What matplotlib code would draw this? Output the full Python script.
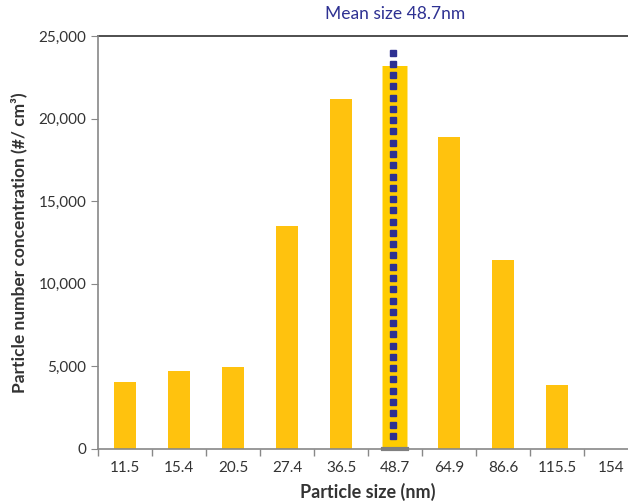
import matplotlib
matplotlib.use("Agg")
import matplotlib.pyplot as plt
import numpy as np
from matplotlib.ticker import FuncFormatter

plt.rcParams['font.family'] = ['Lato', 'DejaVu Sans']

categories = ["11.5", "15.4", "20.5", "27.4", "36.5", "48.7", "64.9", "86.6", "115.5", "154"]
values = [4050, 4700, 4950, 13500, 21200, 23200, 18900, 11450, 3850, 0]
mean_label = "Mean size 48.7nm"
mean_category = "48.7"
mean_line_top = 24000
mean_line_bottom = 800

fig = plt.figure(figsize=(6.28, 5.01), dpi=100)
ax = fig.add_axes([98/628, 1-449/501, 540/628, 413/501])

x = np.arange(len(categories))
mi = categories.index(mean_category)
colors = ['#FFC20E'] * len(categories)
widths = [0.41] * len(categories)
colors[mi] = '#FFCC00'
widths[mi] = 0.45
ax.bar(x, values, width=widths, color=colors, zorder=2)
# glow around mean bar
ax.bar([mi], [values[mi]], width=0.49, color='#FFE680', zorder=1)
# gray base segment under mean bar
ax.plot([mi-0.23, mi+0.23], [0, 0], color='#808080', lw=3, zorder=3, clip_on=False)

yy = np.linspace(mean_line_bottom, mean_line_top, 35)
ax.plot([mi-0.03]*len(yy), yy, linestyle='none', marker='s', ms=4.2,
        color='#2E3192', zorder=4, clip_on=False)

ax.set_xlim(-0.5, len(categories)-0.5)
ax.set_ylim(0, 25000)
ax.set_yticks(np.arange(0, 25001, 5000))
ax.yaxis.set_major_formatter(FuncFormatter(lambda v, p: f"{int(v):,}"))
ax.set_xticks(x)
ax.set_xticklabels(categories)
ax.set_xticks(np.arange(-0.5, len(categories), 1), minor=True)
ax.tick_params(axis='x', which='major', length=0, pad=9, labelsize=11, colors='#333333')
ax.tick_params(axis='x', which='minor', length=5, color='#888888', width=1)
ax.tick_params(axis='y', length=5, color='#888888', labelsize=11, labelcolor='#333333')

for s in ['right', 'top']:
    ax.spines[s].set_visible(False)
for s in ['left', 'bottom']:
    ax.spines[s].set_color('#888888')
    ax.spines[s].set_linewidth(1.2)

ax.plot([0, 1], [1, 1], transform=ax.transAxes, color='#404040', lw=1.3, clip_on=False)

ax.set_xlabel("Particle size (nm)", fontsize=13, fontweight='bold', color='#333333', labelpad=5)
ax.set_ylabel("Particle number concentration (#/ cm³)", fontsize=12.5, fontweight='bold', color='#333333', labelpad=8)

ax.text(mi, 1.035, mean_label, transform=ax.get_xaxis_transform(), ha='center', va='bottom',
        fontsize=12.5, color='#2E3192')

fig.savefig("out.png", dpi=100)
